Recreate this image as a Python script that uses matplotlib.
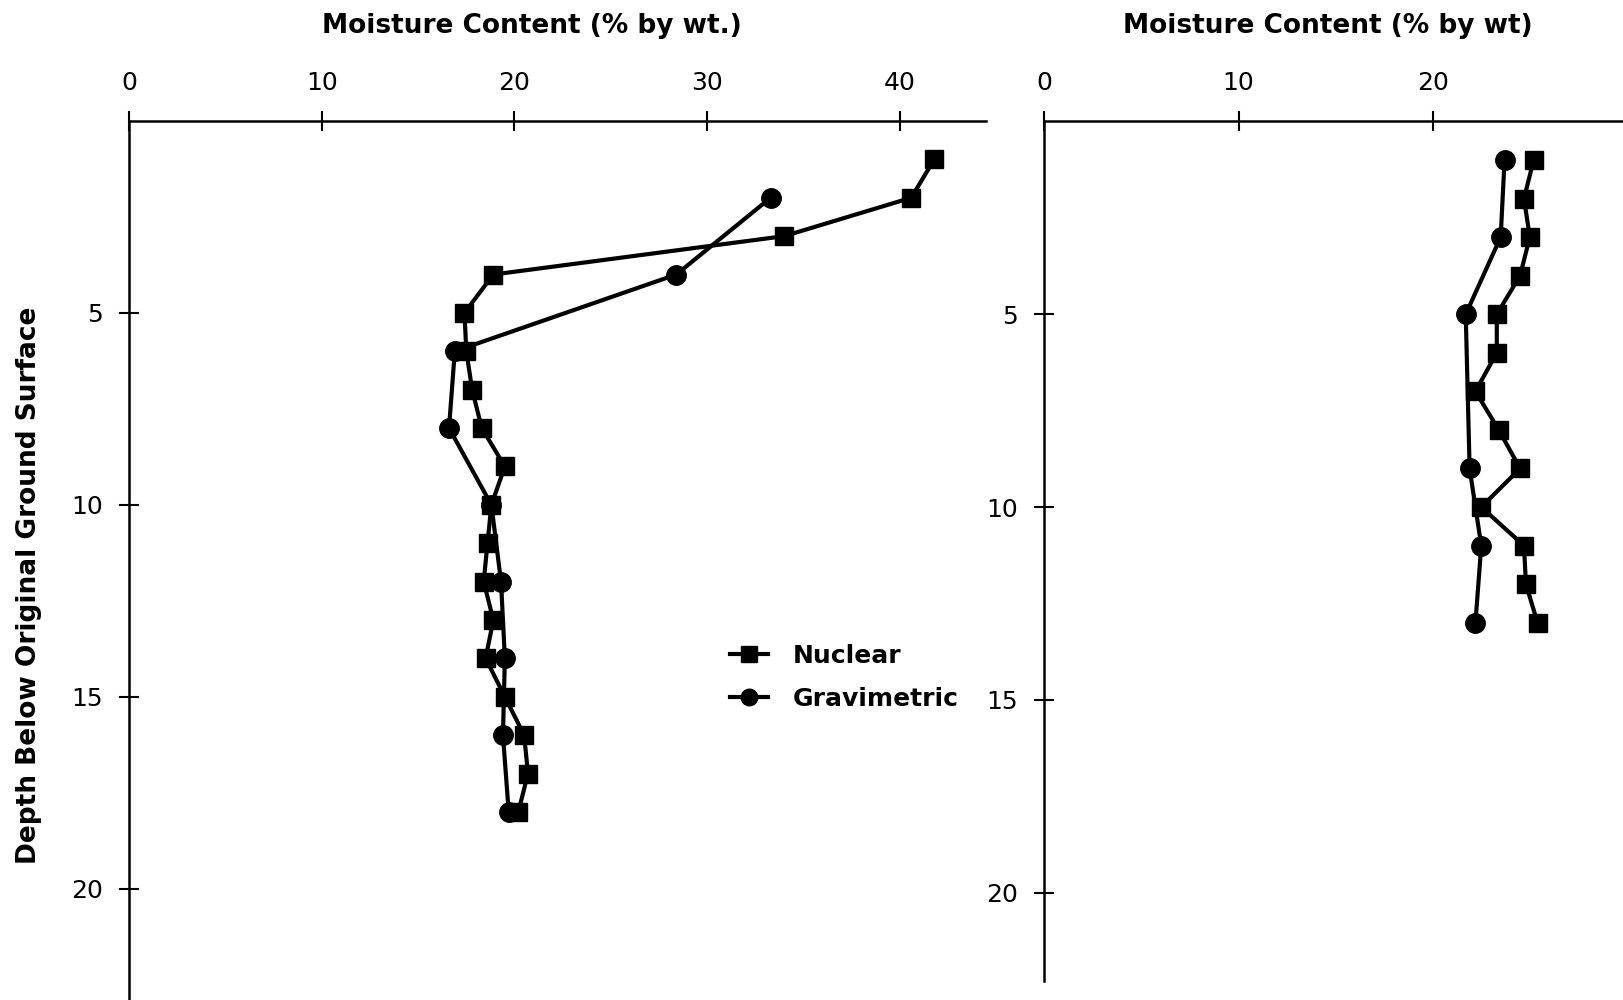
import matplotlib
matplotlib.use("Agg")
import matplotlib.pyplot as plt

# --- data ---
# left profile
left_nuc_depth = [1, 2, 3, 4, 5, 6, 7, 8, 9, 10, 11, 12, 13, 14, 15, 16, 17, 18]
left_nuc_mc = [41.8, 40.6, 34.0, 18.9, 17.4, 17.5, 17.8, 18.3, 19.5, 18.8,
               18.6, 18.4, 18.9, 18.5, 19.5, 20.5, 20.7, 20.2]
left_grav_depth = [2, 4, 6, 8, 10, 12, 14, 16, 18]
left_grav_mc = [33.3, 28.4, 16.9, 16.6, 18.8, 19.3, 19.5, 19.4, 19.7]

# right profile
right_nuc_depth = [1, 2, 3, 4, 5, 6, 7, 8, 9, 10, 11, 12, 13]
right_nuc_mc = [25.2, 24.7, 25.0, 24.5, 23.3, 23.3, 22.2, 23.4, 24.5, 22.5,
                24.7, 24.8, 25.4]
right_grav_depth = [1, 3, 5, 9, 11, 13]
right_grav_mc = [23.7, 23.5, 21.7, 21.9, 22.5, 22.2]

left_xticks = [0, 10, 20, 30, 40]
right_xticks = [0, 10, 20]
yticks = [5, 10, 15, 20]

plt.rcParams['font.family'] = ['DejaVu Sans']

fig = plt.figure(figsize=(16.23, 10), dpi=100)

ax1 = fig.add_axes([0.0797, 0.0, 0.528, 0.879])
ax2 = fig.add_axes([0.6435, 0.0186, 0.3565, 0.860])

def style_axis(ax, xmax, ymax, xticks):
    ax.set_xlim(0, xmax)
    ax.set_ylim(ymax, 0)
    ax.xaxis.tick_top()
    ax.set_xticks(xticks)
    ax.set_yticks(yticks)
    for s in ['right', 'bottom']:
        ax.spines[s].set_visible(False)
    for s in ['left', 'top']:
        ax.spines[s].set_linewidth(1.8)
    ax.tick_params(axis='both', direction='inout', length=14, width=1.5,
                   labelsize=18, pad=12)

mk = dict(color='black', lw=3.0)

ax1.plot(left_nuc_mc, left_nuc_depth, marker='s', ms=13, label='Nuclear', **mk)
ax1.plot(left_grav_mc, left_grav_depth, marker='o', ms=14, label='Gravimetric', **mk)
style_axis(ax1, 44.5, 22.9, left_xticks)

ax2.plot(right_nuc_mc, right_nuc_depth, marker='s', ms=13, **mk)
ax2.plot(right_grav_mc, right_grav_depth, marker='o', ms=14, **mk)
style_axis(ax2, 29.8, 22.3, right_xticks)

leg = ax1.legend(loc='center left', bbox_to_anchor=(0.675, 0.367), frameon=False,
                 fontsize=18, handlelength=1.5, handletextpad=1.0,
                 labelspacing=0.75, markerscale=0.85)
for t in leg.get_texts():
    t.set_fontweight('bold')

fig.text(0.328, 0.974, 'Moisture Content (% by wt.)', ha='center', va='center',
         fontsize=19, fontweight='bold')
fig.text(0.818, 0.974, 'Moisture Content (% by wt)', ha='center', va='center',
         fontsize=19, fontweight='bold')
fig.text(0.018, 0.415, 'Depth Below Original Ground Surface', ha='center',
         va='center', rotation=90, fontsize=19, fontweight='bold')

fig.savefig('out.png', dpi=100)
